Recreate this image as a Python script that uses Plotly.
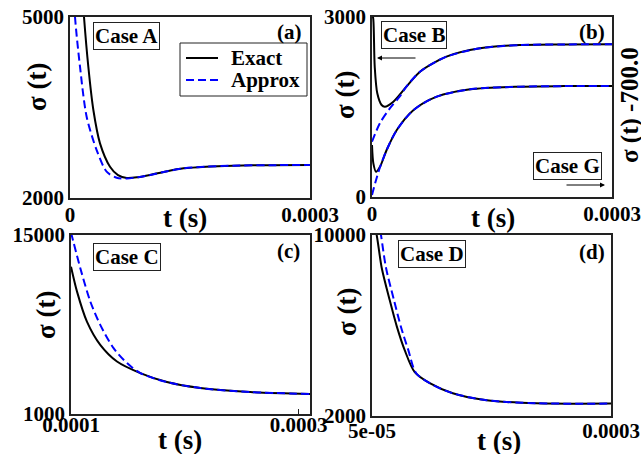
import plotly.graph_objects as go

W, H = 641, 454

# ---------------- data ----------------
# Panel (a) Case A
tA_exact = [1.5e-5, 1.75e-5, 2.29e-5, 2.92e-5, 3.75e-5, 5.0e-5, 6.0e-5, 7.1e-5, 8.5e-5, 1.0e-4,
            1.2e-4, 1.42e-4, 1.7e-4, 2.04e-4, 2.5e-4, 3.0e-4]
sA_exact = [5500, 5000, 4176, 3458, 2906, 2519, 2380, 2331, 2345, 2381,
            2440, 2492, 2520, 2536, 2544, 2547]
tA_approx = [4e-6, 6.25e-6, 1.25e-5, 2.08e-5, 3.33e-5, 4.58e-5, 5.83e-5, 7.1e-5, 8.5e-5, 1.0e-4,
             1.2e-4, 1.42e-4, 1.7e-4, 2.04e-4, 2.5e-4, 3.0e-4]
sA_approx = [5600, 5000, 4176, 3347, 2795, 2436, 2336, 2322, 2345, 2381,
             2440, 2492, 2520, 2536, 2544, 2547]

# Panel (b) Case B (upper) and Case G (lower, shifted by -700)
tB_exact = [0, 1.7e-6, 3.4e-6, 6.6e-6, 1.2e-5, 1.6e-5, 2.67e-5, 4.3e-5, 6.0e-5, 9.3e-5,
            1.35e-4, 1.85e-4, 2.4e-4, 3.0e-4]
sB_exact = [3100, 2950, 2172, 1728, 1533, 1505, 1589, 1839, 2089, 2339,
            2478, 2533, 2543, 2545]
tB_approx = [0, 1.0e-5, 2.25e-5, 3.5e-5, 4.3e-5, 6.0e-5, 9.3e-5, 1.35e-4, 1.85e-4, 2.4e-4, 3.0e-4]
sB_approx = [922, 1233, 1480, 1680, 1839, 2089, 2339, 2478, 2533, 2543, 2545]

tG_exact = [0, 1.7e-6, 5e-6, 1.0e-5, 1.83e-5, 3.1e-5, 5.2e-5, 8.1e-5, 1.23e-4, 1.85e-4, 2.4e-4, 3.0e-4]
sG_exact = [867, 561, 422, 505, 783, 1117, 1450, 1672, 1795, 1839, 1848, 1850]
tG_approx = [0, 4e-6, 1.0e-5, 1.83e-5, 3.1e-5, 5.2e-5, 8.1e-5, 1.23e-4, 1.85e-4, 2.4e-4, 3.0e-4]
sG_approx = [33, 235, 496, 783, 1117, 1450, 1672, 1795, 1839, 1848, 1850]

# Panel (c) Case C
tC_exact = [1.0e-4, 1.053e-4, 1.14e-4, 1.257e-4, 1.404e-4, 1.609e-4, 1.843e-4, 2.136e-4, 2.575e-4, 3.1e-4]
sC_exact = [12523, 10572, 8229, 6410, 5107, 4201, 3498, 3030, 2718, 2561]
tC_approx = [1.0e-4, 1.082e-4, 1.17e-4, 1.257e-4, 1.374e-4, 1.492e-4, 1.609e-4, 1.843e-4, 2.136e-4,
             2.575e-4, 3.1e-4]
sC_approx = [15200, 12400, 9790, 7970, 6150, 4980, 4201, 3498, 3030, 2718, 2561]

# Panel (d) Case D
tD_exact = [5.0e-5, 5.49e-5, 6.02e-5, 6.85e-5, 7.6e-5, 8.42e-5, 9.47e-5, 1.104e-4, 1.345e-4, 1.70e-4,
            2.22e-4, 3.0e-4]
sD_exact = [10900, 10000, 8539, 7122, 5950, 4909, 3935, 3448, 3005, 2695, 2562, 2549]
tD_approx = [5.5e-5, 5.94e-5, 6.47e-5, 7.3e-5, 8.0e-5, 8.8e-5, 9.6e-5, 1.104e-4, 1.345e-4, 1.70e-4,
             2.22e-4, 3.0e-4]
sD_approx = [11200, 10000, 8539, 7122, 5980, 4909, 3900, 3448, 3005, 2695, 2562, 2549]

# axis ranges and tick labels
xA_range, yA_range = [0, 3.0e-4], [2000, 5000]
xB_range, yB_range = [0, 3.0e-4], [0, 3000]
xC_range, yC_range = [1.0e-4, 3.1e-4], [1000, 15000]
xD_range, yD_range = [5.0e-5, 3.0e-4], [2000, 10000]
xA_ticks, xA_text = [0, 3.0e-4], ["0", "0.0003"]
xB_ticks, xB_text = [0, 3.0e-4], ["0", "0.0003"]
xC_ticks, xC_text = [1.0e-4, 3.0e-4], ["0.0001", "0.0003"]
xD_ticks, xD_text = [5.0e-5, 3.0e-4], ["5e-05", "0.0003"]
yA_ticks, yA_text = [2000, 5000], ["2000", "5000"]
yB_ticks, yB_text = [0, 3000], ["0", "3000"]
yC_ticks, yC_text = [1000, 15000], ["1000", "15000"]
yD_ticks, yD_text = [2000, 10000], ["2000", "10000"]
legend_names = ["Exact", "Approx"]

# ---------------- figure ----------------
FONT = "Liberation Serif"
BLACK = "#000000"
BLUE = "#0000ff"
FRAME = "#222222"
DASH = "8px,4px"


def px(x):
    return x / W


def py(y):
    return 1 - y / H


fig = go.Figure()

panels = [
    ("x", "y", tA_exact, sA_exact, tA_approx, sA_approx),
    ("x2", "y2", tB_exact, sB_exact, tB_approx, sB_approx),
    ("x2", "y2", tG_exact, sG_exact, tG_approx, sG_approx),
    ("x3", "y3", tC_exact, sC_exact, tC_approx, sC_approx),
    ("x4", "y4", tD_exact, sD_exact, tD_approx, sD_approx),
]
for xa, ya, te, se, ta, sa in panels:
    fig.add_trace(go.Scatter(x=te, y=se, xaxis=xa, yaxis=ya, mode="lines", name=legend_names[0],
                             line=dict(color=BLACK, width=2, shape="spline", smoothing=0.8),
                             showlegend=False))
    fig.add_trace(go.Scatter(x=ta, y=sa, xaxis=xa, yaxis=ya, mode="lines", name=legend_names[1],
                             line=dict(color=BLUE, width=2, dash=DASH, shape="spline", smoothing=0.8),
                             showlegend=False))

tickfont = dict(family=FONT, size=21, color=BLACK, weight="bold")


def axis(domain, rng, tv, tt, anchor, standoff=0):
    return dict(domain=domain, range=rng, tickvals=tv, ticktext=tt, anchor=anchor,
                showline=True, mirror=True, linecolor=FRAME, linewidth=1.5,
                ticks="inside", ticklen=5, tickcolor=FRAME, showgrid=False, zeroline=False,
                tickfont=tickfont, ticklabelstandoff=standoff, automargin=False, fixedrange=True)


fig.update_layout(
    width=W, height=H,
    margin=dict(l=0, r=0, t=0, b=0, autoexpand=False),
    paper_bgcolor="white", plot_bgcolor="white",
    xaxis=axis([px(70), px(310)], xA_range, xA_ticks, xA_text, "y", -3),
    yaxis=axis([py(198), py(17)], yA_range, yA_ticks, yA_text, "x"),
    xaxis2=axis([px(372), px(612)], xB_range, xB_ticks, xB_text, "y2", -3),
    yaxis2=axis([py(197), py(17)], yB_range, yB_ticks, yB_text, "x2"),
    xaxis3=axis([px(71), px(310)], xC_range, xC_ticks, xC_text, "y3", -9),
    yaxis3=axis([py(414), py(235)], yC_range, yC_ticks, yC_text, "x3"),
    xaxis4=axis([px(372), px(611)], xD_range, xD_ticks, xD_text, "y4", -5),
    yaxis4=axis([py(416), py(235)], yD_range, yD_ticks, yD_text, "x4"),
    showlegend=False,
)

ann = []
shapes = []


def text(x, y, s, size=20, angle=0, xanchor="center", yanchor="middle", box=False):
    d = dict(x=px(x), y=py(y), xref="paper", yref="paper", text=s, showarrow=False,
             textangle=angle, xanchor=xanchor, yanchor=yanchor,
             font=dict(family=FONT, size=size, color=BLACK, weight="bold"))
    if box:
        d.update(bordercolor=FRAME, borderwidth=1, borderpad=1, bgcolor="white")
    ann.append(d)


# axis titles
for (x, y) in [(37, 87), (345, 95), (46, 315), (347, 312)]:
    text(x, y, "σ (t)", size=27, angle=-90)
for (x, y) in [(185, 218), (493, 218), (180, 440), (499, 441)]:
    text(x, y, "t (s)", size=27)
text(630, 105, "σ (t) -700.0", size=25, angle=-90)

# panel labels
text(304, 32, "(a)", xanchor="right", size=21)
text(607, 32, "(b)", xanchor="right", size=21)
text(302, 251, "(c)", xanchor="right", size=21)
text(607, 252, "(d)", xanchor="right", size=21)

# case boxes
text(126, 36, "Case A", box=True, size=21)
text(414, 35, "Case B", box=True, size=21)
text(567, 166, "Case G", box=True, size=21)
text(127, 257, "Case C", box=True, size=21)
text(432, 254, "Case D", box=True, size=21)

# legend (panel a)
shapes.append(dict(type="rect", xref="paper", yref="paper", x0=px(180), x1=px(307), y0=py(96), y1=py(43),
                   line=dict(color=FRAME, width=1), fillcolor="white", layer="above"))
shapes.append(dict(type="line", xref="paper", yref="paper", x0=px(186), x1=px(218), y0=py(58), y1=py(58),
                   line=dict(color=BLACK, width=2), layer="above"))
shapes.append(dict(type="line", xref="paper", yref="paper", x0=px(186), x1=px(218), y0=py(80), y1=py(80),
                   line=dict(color=BLUE, width=2, dash=DASH), layer="above"))
text(229, 58, legend_names[0], xanchor="left", size=21)
text(229, 80, legend_names[1], xanchor="left", size=21)

# arrows
ann.append(dict(x=px(377), y=py(58), ax=40, ay=0, xref="paper", yref="paper",
                axref="pixel", ayref="pixel", showarrow=True, arrowhead=2, arrowsize=1,
                arrowwidth=1, arrowcolor=BLACK, text=""))
ann.append(dict(x=px(605), y=py(185), ax=-40, ay=0, xref="paper", yref="paper",
                axref="pixel", ayref="pixel", showarrow=True, arrowhead=2, arrowsize=1,
                arrowwidth=1, arrowcolor=BLACK, text=""))

fig.update_layout(annotations=ann, shapes=shapes)

fig.write_html("out.html", config={"displayModeBar": False},
               post_script="document.body.style.margin='0';document.body.style.overflow='hidden';")
